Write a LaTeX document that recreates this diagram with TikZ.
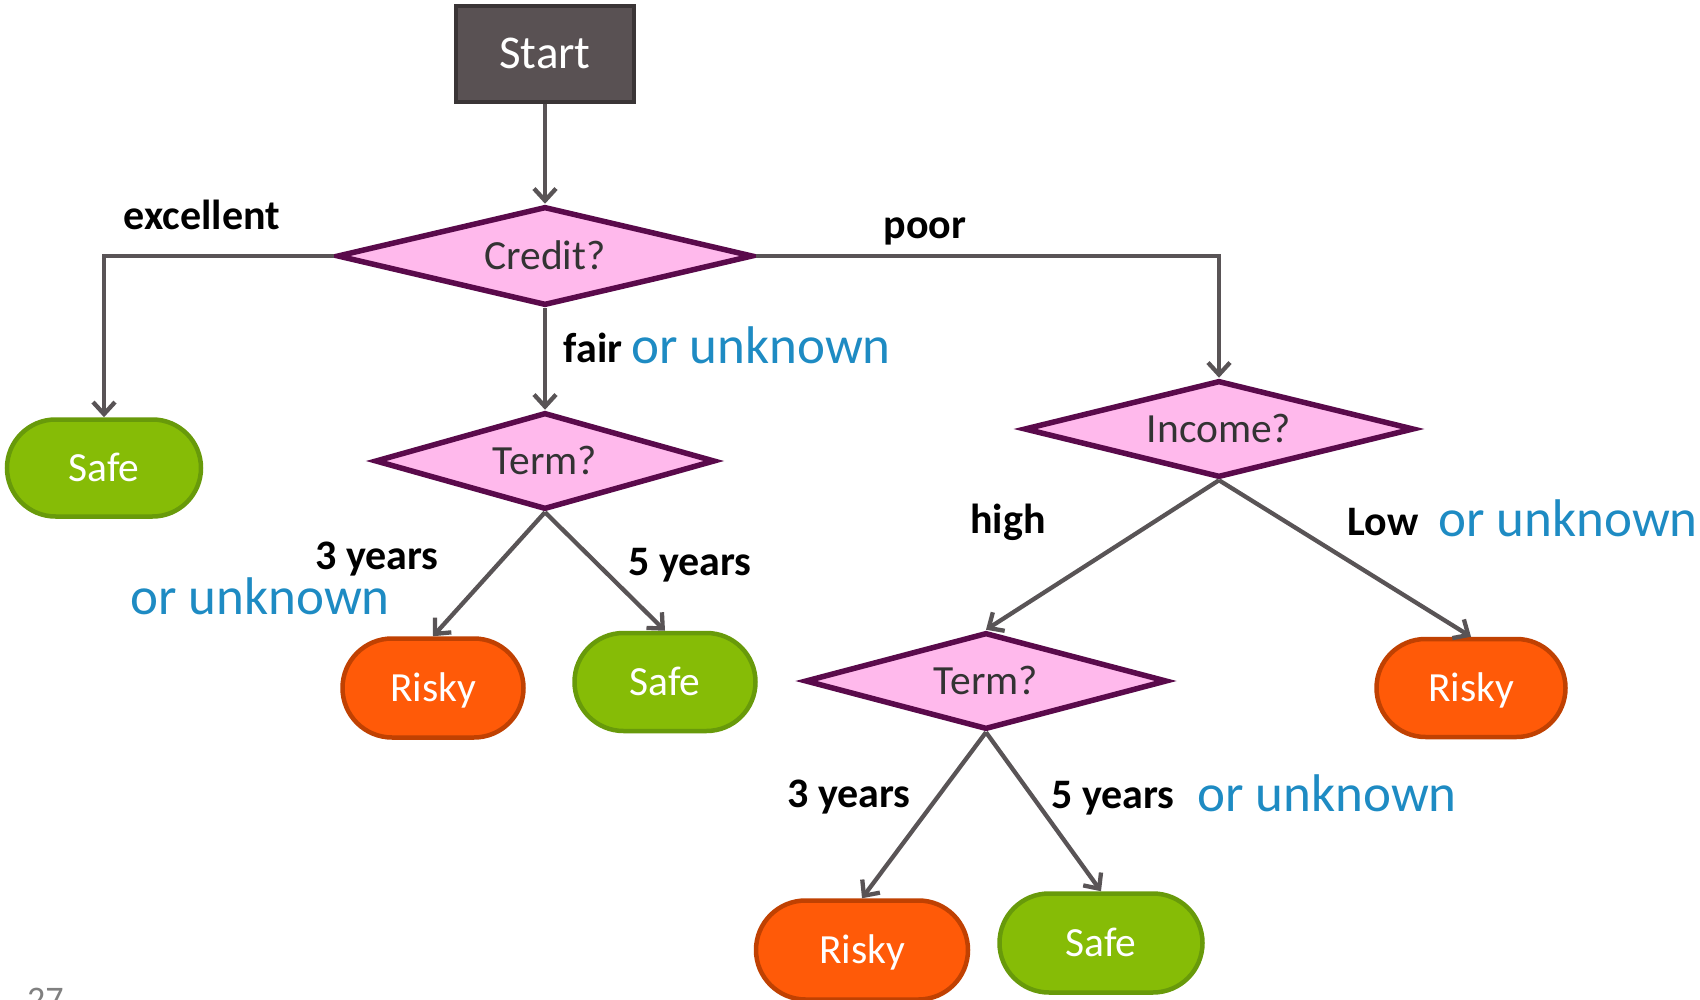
\documentclass[tikz,border=0pt]{standalone}
\usepackage{fontspec}
\setmainfont{Carlito}
\usetikzlibrary{shapes.geometric,shapes.misc,arrows.meta}
\definecolor{startfill}{HTML}{595153}
\definecolor{startline}{HTML}{3A3536}
\definecolor{pinkfill}{HTML}{FFB9EC}
\definecolor{purpline}{HTML}{5A0A4B}
\definecolor{conn}{HTML}{595456}
\definecolor{unkblue}{HTML}{1E8BC3}
\definecolor{riskyfill}{HTML}{FF5A08}
\definecolor{riskyline}{HTML}{C04102}
\definecolor{safefill}{HTML}{86BC06}
\definecolor{safeline}{HTML}{689A0A}
\definecolor{pagenum}{HTML}{808080}
\definecolor{qtext}{HTML}{333333}
\begin{document}
\begin{tikzpicture}[x=1pt,y=-1pt,
  startbox/.style={draw=startline,fill=startfill,line width=4.5pt,text=white,
    font=\fontsize{47}{56}\selectfont,inner sep=0pt,text height=30pt,text depth=0pt},
  question/.style={diamond,shape aspect=4,draw=purpline,fill=pinkfill,line width=5.5pt,
    text=qtext,font=\fontsize{41.5}{50}\selectfont,inner sep=0pt,text height=26.7pt,text depth=0pt},
  risky/.style={rounded rectangle,draw=riskyline,fill=riskyfill,line width=4.5pt,
    text=white,font=\fontsize{41.5}{50}\selectfont,inner sep=0pt,text height=26.7pt,text depth=0pt},
  safe/.style={rounded rectangle,draw=safeline,fill=safefill,line width=4.5pt,
    text=white,font=\fontsize{41.5}{50}\selectfont,inner sep=0pt,text height=26.7pt,text depth=0pt},
  conn/.style={draw=conn,line width=4.3pt,-{Straight Barb[length=12pt,width=22pt]}},
  lbl/.style={font=\fontsize{42}{50}\selectfont\bfseries,text=black,inner sep=0pt},
  unk/.style={font=\fontsize{53}{63}\selectfont,text=unkblue,inner sep=0pt}
]
\clip (0,0) rectangle (1700,1000);
% nodes
\node[startbox,minimum width=178pt,minimum height=96pt] (start) at (545,54) {Start};
\node[question,minimum width=416pt,minimum height=99pt] (credit) at (545,256) {Credit?};
\node[safe,minimum width=194pt,minimum height=97pt] (safeA) at (104,468) {Safe};
\node[question,minimum width=340pt,minimum height=97pt] (termA) at (545,461) {Term?};
\node[risky,minimum width=181pt,minimum height=99pt] (riskyA) at (433,688) {Risky};
\node[safe,minimum width=181pt,minimum height=98pt] (safeB) at (665,682) {Safe};
\node[question,minimum width=390pt,minimum height=97pt] (income) at (1219,429) {Income?};
\node[question,minimum width=362pt,minimum height=97pt] (termB) at (986,681) {Term?};
\node[risky,minimum width=189pt,minimum height=98pt] (riskyB) at (1471,688) {Risky};
\node[risky,minimum width=212pt,minimum height=99pt] (riskyC) at (862,950) {Risky};
\node[safe,minimum width=203pt,minimum height=99pt] (safeC) at (1101,943) {Safe};
% connectors
\draw[conn] (start.south) -- (credit.north);
\draw[conn] (credit.west) -| (safeA.north);
\draw[conn] (credit.south) -- (termA.north);
\draw[conn] (credit.east) -| (income.north);
\draw[conn] (termA.south) -- (riskyA.north);
\draw[conn] (termA.south) -- (safeB.north);
\draw[conn] (income.south) -- (termB.north);
\draw[conn] (income.south) -- (riskyB.north);
\draw[conn] (termB.south) -- (riskyC.north);
\draw[conn] (termB.south) -- (safeC.north);
% labels
\node[lbl] (lexc) at (202,215) {excellent};
\node[lbl] (lpoor) at (925,231) {poor};
\node[lbl] (lfair) at (593,348) {fair};
\node[unk] (ufair) at (761,345) {or unknown};
\node[lbl] (l3a) at (377,559) {3 years};
\node[unk] (u3a) at (260,596) {or unknown};
\node[lbl] (l5a) at (690,565) {5 years};
\node[lbl] (lhigh) at (1008,522) {high};
\node[lbl] (llow) at (1383,522) {Low};
\node[unk] (ulow) at (1568,518) {or unknown};
\node[lbl] (l3b) at (849,797) {3 years};
\node[lbl] (l5b) at (1113,798) {5 years};
\node[unk] (u5b) at (1327,793) {or unknown};
\node[font=\fontsize{36}{43}\selectfont,text=pagenum,anchor=base west,inner sep=0pt] (pnum) at (27,1011) {27};
\end{tikzpicture}
\end{document}
